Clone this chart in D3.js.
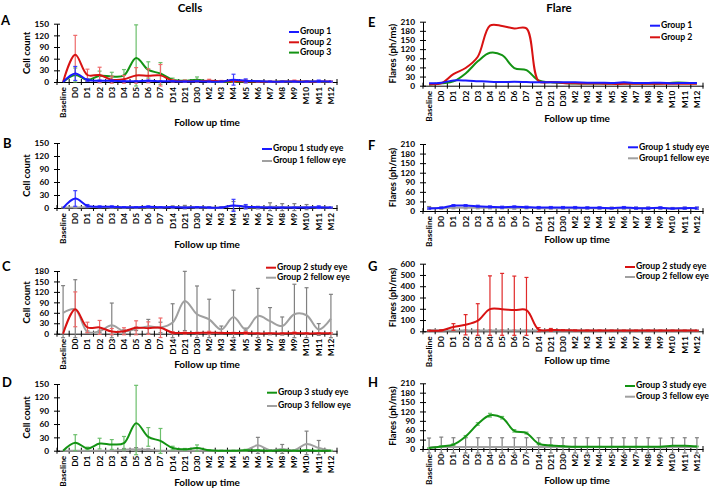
<!DOCTYPE html>
<html><head><meta charset="utf-8">
<script src="https://cdn.jsdelivr.net/npm/d3@7"></script>
<style>
body{margin:0;background:#fff;}
svg{display:block;}
text{font-family:Lato,"Open Sans",sans-serif;font-weight:700;fill:#000;}
</style></head><body>
<svg id="c" width="709" height="489"></svg>
<script>
const categories = ["Baseline","D0","D1","D2","D3","D4","D5","D6","D7","D14","D21","D30","M2","M3","M4","M5","M6","M7","M8","M9","M10","M11","M12"];

// Cells
const cellG1Study     = [0,22,5,3,3,2,2,3,2,2,1,2,1,1,6,3,2,1,1,1,1,2,1];
const cellG1StudyErr  = [0,18,3,2,2,1,1,2,1,1,1,1,1,1,14,5,1,1,1,1,1,3,1];
const cellG1Fellow    = [1,1,2,2,1,1,1,1,1,2,2,1,1,1,5,2,1,3,2,2,2,1,1];
const cellG1FellowErr = [1,1,1,1,1,1,1,1,1,3,4,2,2,2,10,3,3,9,8,8,6,2,1];
const cellG2Study     = [0,70,18,18,6,7,17,16,17,3,2,2,3,2,2,2,1,1,1,2,1,1,1];
const cellG2StudyErr  = [0,50,15,20,9,10,20,18,28,3,3,2,4,2,2,4,1,1,1,3,2,2,2];
const cellG2Fellow    = [60,70,5,7,24,7,14,21,18,32,94,56,41,12,48,12,51,36,22,56,53,12,43];
const cellG2FellowErr = [78,85,3,3,64,4,5,20,15,54,85,81,58,10,77,4,79,39,26,86,79,17,70];
const cellG3Study     = [0,18,5,16,14,17,62,31,22,6,3,6,1,0,0,1,1,0,1,0,1,0,0];
const cellG3StudyErr  = [0,18,3,12,11,15,85,21,28,4,2,7,1,1,1,2,1,1,1,1,1,1,1];
const cellG3Fellow    = [0,0,0,0,0,2,3,2,0,0,0,0,0,0,0,1,12,1,4,1,15,6,0];
const cellG3FellowErr = [0,0,0,0,0,3,4,2,0,0,0,0,0,0,0,1,18,1,10,1,29,17,0];

// Flare
const flrG1Study     = [8,10,17,17,15,13,12,13,12,11,11,11,11,10,10,9,11,9,9,10,8,9,9];
const flrG1StudyErr  = [2,2,3,3,3,3,3,3,3,3,3,3,3,3,3,2,3,3,3,3,2,3,3];
const flrG1Fellow    = [10,9,10,10,10,10,10,9,10,9,9,9,9,9,9,9,9,9,9,9,8,9,9];
const flrG1FellowErr = [4,3,3,3,3,3,3,3,3,3,3,3,3,3,3,3,3,3,3,3,3,3,3];
const flrG2Study     = [5,8,38,58,95,197,196,188,188,15,12,9,8,7,7,6,6,6,6,6,6,6,6];
const flrG2StudyErr  = [3,5,30,90,150,295,318,302,290,18,13,4,4,3,3,3,3,3,3,3,3,3,3];
const flrG2Fellow    = [9,8,8,8,8,8,8,8,8,8,8,8,8,8,7,7,7,7,7,7,7,7,7];
const flrG2FellowErr = [4,3,3,3,3,3,3,3,3,3,3,3,3,3,3,3,3,3,3,3,3,3,3];
const flrG3Study     = [3,8,14,40,80,108,100,58,51,17,11,9,7,7,7,7,7,7,7,7,10,10,8];
const flrG3StudyErr  = [1,2,3,3,4,6,4,4,3,3,2,2,1,1,1,1,1,1,1,1,1,1,1];
const flrG3Fellow    = [5,6,6,6,6,6,6,6,6,6,6,6,6,6,6,6,6,6,6,5,6,6,6];
const flrG3FellowErr = [30,32,30,30,30,30,30,30,30,30,30,30,30,30,30,30,30,30,30,30,30,30,30];

const C = {
  blue:"#1a1aff", blueE:"#3d3dff",
  red:"#d81212", redE:"#ee6a6a", redE2:"#e02a2a",
  green:"#139313", greenE:"#6cbf6c",
  gray:"#a0a0a0", grayE:"#808080"
};

const svg = d3.select("#c");

svg.append("text").attr("x",190).attr("y",9).attr("text-anchor","middle").attr("dominant-baseline","middle").style("font-size","11.5px").text("Cells");
svg.append("text").attr("x",559).attr("y",9).attr("text-anchor","middle").attr("dominant-baseline","middle").style("font-size","11.5px").text("Flare");

function panel(cfg){
  const g = svg.append("g");
  const x = d3.scaleBand().domain(categories).range([cfg.x0,cfg.x1]);
  const y = d3.scaleLinear().domain([0,cfg.yMax]).range([cfg.yBot,cfg.yTop]);
  const cx = c => x(c)+x.bandwidth()/2;

  g.append("text").attr("x",cfg.lx).attr("y",cfg.ly).attr("dominant-baseline","middle").style("font-size","13px").text(cfg.letter);

  const ya = g.append("g").attr("transform",`translate(${cfg.x0},0)`)
    .call(d3.axisLeft(y).tickValues(d3.range(0,cfg.yMax+1,cfg.yStep)).tickSizeInner(3).tickSizeOuter(0).tickPadding(5));
  ya.selectAll(".tick line").attr("x1",-3).attr("x2",3).attr("stroke","#000");
  ya.select(".domain").attr("stroke","#000");
  ya.selectAll("text").style("font-size","8.3px").style("font-family","Lato").style("font-weight","700");

  const xa = g.append("g").attr("transform",`translate(0,${cfg.yBot})`)
    .call(d3.axisBottom(x).tickSize(0).tickPadding(0));
  xa.select(".domain").attr("stroke","#000");
  xa.selectAll("text").attr("transform","rotate(-90)").attr("text-anchor","end")
    .attr("x",-5).attr("y",0).attr("dy","0.35em")
    .style("font-size","8.3px").style("font-family","Lato").style("font-weight","700");
  const bounds = d3.range(categories.length+1).map(i => x.range()[0] + i*x.step());
  g.selectAll(null).data(bounds).enter().append("line")
    .attr("x1",d=>d).attr("x2",d=>d).attr("y1",cfg.yBot-3).attr("y2",cfg.yBot+3).attr("stroke","#000");

  g.append("text").attr("transform",`translate(${cfg.ytx},${(cfg.yTop+cfg.yBot)/2}) rotate(-90)`)
    .attr("text-anchor","middle").attr("dominant-baseline","middle").style("font-size","9.5px").text(cfg.yTitle);
  g.append("text").attr("x",cfg.xtx).attr("y",cfg.xty).attr("text-anchor","middle").attr("dominant-baseline","middle")
    .style("font-size","10px").text("Follow up time");

  const line = d3.line().x((d,i)=>cx(categories[i])).y(d=>y(d)).curve(d3.curveCatmullRom.alpha(0.5));
  const lowLim = cfg.yBot + 4;
  cfg.series.forEach(s => {
    if (s.errs){
      const eg = g.append("g").attr("stroke",s.errColor).attr("stroke-width",1.2);
      s.vals.forEach((v,i) => {
        const e = s.errs[i]; if (!e) return;
        const xx = cx(categories[i]);
        const yt = y(v+e), yb = Math.min(y(v-e), lowLim);
        eg.append("line").attr("x1",xx).attr("x2",xx).attr("y1",yt).attr("y2",yb);
        eg.append("line").attr("x1",xx-2).attr("x2",xx+2).attr("y1",yt).attr("y2",yt);
        eg.append("line").attr("x1",xx-2).attr("x2",xx+2).attr("y1",yb).attr("y2",yb);
      });
    }
    g.append("path").datum(s.vals).attr("d",line).attr("fill","none")
      .attr("stroke",s.color).attr("stroke-width",2);
  });

  cfg.legend.items.forEach((it,i) => {
    const ly = cfg.legend.y + i*cfg.legend.gap;
    g.append("line").attr("x1",cfg.legend.x).attr("x2",cfg.legend.x+10).attr("y1",ly).attr("y2",ly)
      .attr("stroke",it.color).attr("stroke-width",2);
    g.append("text").attr("x",cfg.legend.x+11).attr("y",ly).attr("dominant-baseline","middle")
      .style("font-size","8.7px").text(it.name);
  });
}

const L = {x0:57, x1:337, ytx:28, xtx:207};
const R = {x0:423, x1:703, ytx:394, xtx:577};

panel({...L, letter:"A", lx:1, ly:22, yTop:23.7, yBot:82, yMax:150, yStep:30, yTitle:"Cell count", xty:123,
  series:[
    {vals:cellG3Study, errs:cellG3StudyErr, color:C.green, errColor:C.greenE},
    {vals:cellG2Study, errs:cellG2StudyErr, color:C.red, errColor:C.redE},
    {vals:cellG1Study, errs:cellG1StudyErr, color:C.blue, errColor:C.blueE}],
  legend:{x:289, y:32, gap:10.3, items:[{name:"Group 1",color:C.blue},{name:"Group 2",color:C.red},{name:"Group 3",color:C.green}]}});

panel({...L, letter:"B", lx:3, ly:145, yTop:143, yBot:208, yMax:150, yStep:30, yTitle:"Cell count", xty:245,
  series:[
    {vals:cellG1Fellow, errs:cellG1FellowErr, color:C.gray, errColor:C.grayE},
    {vals:cellG1Study, errs:cellG1StudyErr, color:C.blue, errColor:C.blueE}],
  legend:{x:262, y:149, gap:12, items:[{name:"Gropu 1 study eye",color:C.blue},{name:"Group 1 fellow eye",color:C.gray}]}});

panel({...L, letter:"C", lx:2, ly:268, yTop:271, yBot:333.7, yMax:180, yStep:30, yTitle:"Cell count", xty:365,
  series:[
    {vals:cellG2Fellow, errs:cellG2FellowErr, color:C.gray, errColor:C.grayE},
    {vals:cellG2Study, errs:cellG2StudyErr, color:C.red, errColor:C.redE}],
  legend:{x:266, y:267.7, gap:10, items:[{name:"Group 2 study eye",color:C.red},{name:"Group 2 fellow eye",color:C.gray}]}});

panel({...L, letter:"D", lx:2, ly:384, yTop:384, yBot:450.7, yMax:150, yStep:30, yTitle:"Cell count", xty:483,
  series:[
    {vals:cellG3Fellow, errs:cellG3FellowErr, color:C.gray, errColor:C.grayE},
    {vals:cellG3Study, errs:cellG3StudyErr, color:C.green, errColor:C.greenE}],
  legend:{x:267, y:392.7, gap:13.3, items:[{name:"Group 3 study eye",color:C.green},{name:"Group 3 fellow eye",color:C.gray}]}});

panel({...R, letter:"E", lx:368, ly:23.5, yTop:21.7, yBot:85.7, yMax:210, yStep:30, yTitle:"Flares (ph/ms)", xty:119,
  series:[
    {vals:flrG3Study, color:C.green},
    {vals:flrG2Study, color:C.red},
    {vals:flrG1Study, color:C.blue}],
  legend:{x:650, y:25.7, gap:11.6, items:[{name:"Group 1",color:C.blue},{name:"Group 2",color:C.red}]}});

panel({...R, letter:"F", lx:368, ly:146.5, yTop:144, yBot:211, yMax:210, yStep:30, yTitle:"Flares (ph/ms)", xty:240,
  series:[
    {vals:flrG1Fellow, errs:flrG1FellowErr, color:C.gray, errColor:C.grayE},
    {vals:flrG1Study, errs:flrG1StudyErr, color:C.blue, errColor:C.blueE}],
  legend:{x:628, y:147.3, gap:11, items:[{name:"Group 1 study eye",color:C.blue},{name:"Group1 fellow eye",color:C.gray}]}});

panel({...R, letter:"G", lx:368, ly:268, yTop:263.7, yBot:331.3, yMax:600, yStep:100, yTitle:"Flares (ph/ms)", xty:361,
  series:[
    {vals:flrG2Fellow, errs:flrG2FellowErr, color:C.gray, errColor:C.grayE},
    {vals:flrG2Study, errs:flrG2StudyErr, color:C.red, errColor:C.redE2}],
  legend:{x:625, y:267, gap:10, items:[{name:"Group 2 study eye",color:C.red},{name:"Group 2 fellow eye",color:C.gray}]}});

panel({...R, letter:"H", lx:368, ly:384, yTop:383.3, yBot:449, yMax:210, yStep:30, yTitle:"Flares (ph/ms)", xty:481,
  series:[
    {vals:flrG3Fellow, errs:flrG3FellowErr, color:C.gray, errColor:C.grayE},
    {vals:flrG3Study, errs:flrG3StudyErr, color:C.green, errColor:C.greenE}],
  legend:{x:625, y:386, gap:10.7, items:[{name:"Group 3 study eye",color:C.green},{name:"Group 3 fellow eye",color:C.gray}]}});
</script>
</body></html>
